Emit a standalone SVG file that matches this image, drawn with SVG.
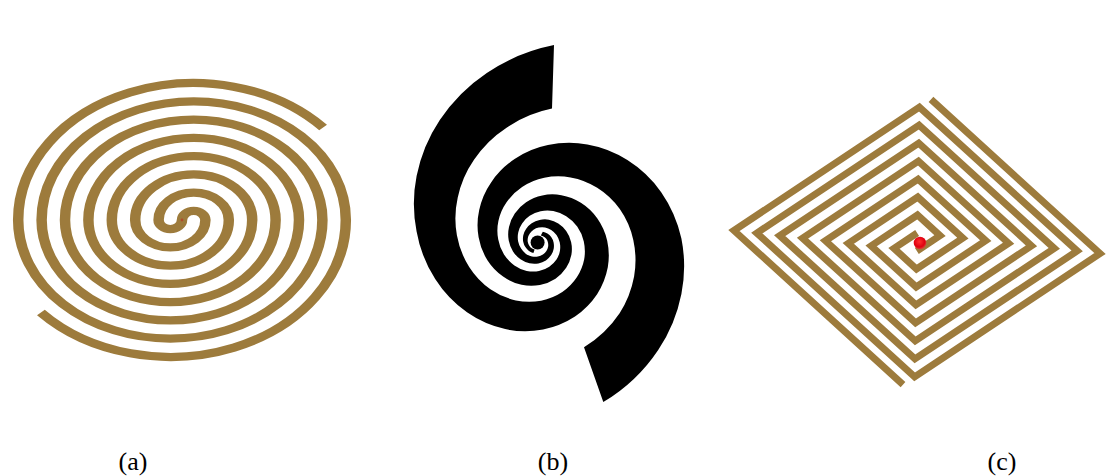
<svg xmlns="http://www.w3.org/2000/svg" xmlns:xlink="http://www.w3.org/1999/xlink" width="1116" height="476" viewBox="0 0 1116 476">
  <style>
    .gold { fill: none; stroke: #9d7b3c; stroke-linecap: butt; }
    .sq { fill: none; stroke: #9d7b3c; stroke-width: 7; stroke-linejoin: miter; stroke-miterlimit: 8; vector-effect: non-scaling-stroke; }
    .blk { fill: #000; stroke: none; }
    .lbl { font-family: "Liberation Serif", "Times New Roman", serif; font-size: 26px; fill: #000; text-anchor: middle; }
  </style>
  <defs>
    <radialGradient id="redDot" cx="0.45" cy="0.4" r="0.6">
      <stop offset="0" stop-color="#ff3030"/>
      <stop offset="0.7" stop-color="#e00010"/>
      <stop offset="1" stop-color="#d84a3a"/>
    </radialGradient>
  </defs>
  <rect width="1116" height="476" fill="#fff"/>

  <!-- (a) Archimedean two-arm spiral -->
  <g id="spiral-a" transform="translate(182,220) scale(1,0.78)">
    <path id="a-arm1" class="gold" stroke-width="10.5" d="M0,0 A11.7,11.7 0 0 1 23.4,0 A35.1,35.1 0 0 1 -46.8,0 A58.5,58.5 0 0 1 70.2,0 A81.9,81.9 0 0 1 -93.6,0 A105.3,105.3 0 0 1 117,0 A128.7,128.7 0 0 1 -140.4,0 A152.1,152.1 0 0 1 163.8,0 A175.5,175.5 0 0 1 -141.1,118.6"/>
    <use xlink:href="#a-arm1" href="#a-arm1" transform="rotate(180)"/>
  </g>
  <circle cx="182" cy="220" r="1.4" fill="#b04a2a"/>

  <!-- (b) equiangular two-arm spiral -->
  <g id="spiral-b">
    <path id="b-arm1" class="blk" d="M554.0,45.1 A186.3,186.3 0 0 0 486.8,72.9 A170.2,170.2 0 0 0 439.8,120.0 A155.5,155.5 0 0 0 416.6,176.1 A142.1,142.1 0 0 0 416.6,231.5 A129.8,129.8 0 0 0 435.2,279.0 A118.7,118.7 0 0 0 467.0,312.3 A108.4,108.4 0 0 0 505.2,329.1 A99.1,99.1 0 0 0 543.1,329.5 A90.5,90.5 0 0 0 575.0,316.5 A82.7,82.7 0 0 0 597.1,294.2 A75.5,75.5 0 0 0 607.8,267.3 A69.0,69.0 0 0 0 607.2,240.7 A63.0,63.0 0 0 0 597.2,218.3 A57.6,57.6 0 0 0 580.9,202.8 A52.6,52.6 0 0 0 561.4,195.2 A48.1,48.1 0 0 0 542.3,195.4 A43.9,43.9 0 0 0 526.1,202.3 A40.1,40.1 0 0 0 514.8,213.6 A36.7,36.7 0 0 0 509.0,227.0 A33.5,33.5 0 0 0 508.7,240.3 A30.6,30.6 0 0 0 513.0,251.4 A28.0,28.0 0 0 0 520.5,259.3 A25.6,25.6 0 0 0 529.5,263.3 A23.4,23.4 0 0 0 538.4,263.4 A21.3,21.3 0 0 0 545.9,260.4 A19.5,19.5 0 0 0 551.2,255.1 A17.8,17.8 0 0 0 553.7,248.7 A16.3,16.3 0 0 0 553.6,242.5 A14.9,14.9 0 0 0 551.2,237.1 A13.6,13.6 0 0 0 547.4,233.5 A12.4,12.4 0 0 0 542.8,231.7 L540.8,235.5 A8.3,8.3 0 0 1 543.9,236.7 A9.1,9.1 0 0 1 546.5,239.1 A9.9,9.9 0 0 1 548.0,242.7 A10.9,10.9 0 0 1 548.1,246.8 A11.9,11.9 0 0 1 546.4,251.1 A13.0,13.0 0 0 1 542.9,254.6 A14.2,14.2 0 0 1 537.9,256.6 A15.6,15.6 0 0 1 532.0,256.5 A17.1,17.1 0 0 1 526.0,253.9 A18.7,18.7 0 0 1 521.1,248.6 A20.4,20.4 0 0 1 518.1,241.2 A22.3,22.3 0 0 1 518.3,232.3 A24.5,24.5 0 0 1 522.1,223.4 A26.7,26.7 0 0 1 529.7,215.8 A29.3,29.3 0 0 1 540.6,211.3 A32.1,32.1 0 0 1 553.3,211.1 A35.1,35.1 0 0 1 566.2,216.2 A38.4,38.4 0 0 1 577.2,226.6 A42.0,42.0 0 0 1 583.8,241.5 A46.0,46.0 0 0 1 584.2,259.2 A50.3,50.3 0 0 1 577.0,277.0 A55.1,55.1 0 0 1 562.3,292.0 A60.3,60.3 0 0 1 541.1,300.7 A66.1,66.1 0 0 1 515.8,300.4 A72.3,72.3 0 0 1 490.4,289.2 A79.1,79.1 0 0 1 469.2,266.9 A86.5,86.5 0 0 1 456.9,235.3 A94.7,94.7 0 0 1 457.7,197.8 A103.7,103.7 0 0 1 474.0,159.8 A113.5,113.5 0 0 1 506.2,127.9 A124.2,124.2 0 0 1 552.0,108.6 Z"/>
    <path id="b-arm2" class="blk" d="M603.3,402.1 A171,171 0 0 0 658.2,350.0 A155.5,155.5 0 0 0 681.4,293.9 A142.1,142.1 0 0 0 681.4,238.5 A129.8,129.8 0 0 0 661.2,192.2 A118.7,118.7 0 0 0 627.4,160.1 A108.4,108.4 0 0 0 587.4,144.5 A99.1,99.1 0 0 0 547.9,145.1 A90.5,90.5 0 0 0 514.6,159.1 A82.7,82.7 0 0 0 491.1,182.4 A75.5,75.5 0 0 0 479.2,210.1 A69.0,69.0 0 0 0 478.6,237.3 A63.0,63.0 0 0 0 487.6,260.5 A57.6,57.6 0 0 0 503.1,276.6 A52.6,52.6 0 0 0 521.6,284.8 A48.1,48.1 0 0 0 539.9,285.0 A43.9,43.9 0 0 0 555.5,278.7 A40.1,40.1 0 0 0 566.2,267.8 A36.7,36.7 0 0 0 571.4,254.8 A33.5,33.5 0 0 0 571.1,241.9 A30.6,30.6 0 0 0 566.2,231.0 A28.0,28.0 0 0 0 558.3,223.5 A25.6,25.6 0 0 0 548.9,219.7 A23.4,23.4 0 0 0 539.6,220.0 A21.3,21.3 0 0 0 531.7,223.2 A19.5,19.5 0 0 0 526.2,228.7 A17.8,17.8 0 0 0 523.3,235.3 A16.3,16.3 0 0 0 523.2,241.7 A14.9,14.9 0 0 0 525.4,247.1 A13.6,13.6 0 0 0 529.0,250.9 A12.4,12.4 0 0 0 533.4,252.9 L534.6,249.5 A8.3,8.3 0 0 1 531.7,248.3 A9.1,9.1 0 0 1 529.3,245.7 A9.9,9.9 0 0 1 527.8,242.1 A10.9,10.9 0 0 1 527.9,237.8 A11.9,11.9 0 0 1 529.8,233.5 A13.0,13.0 0 0 1 533.5,229.8 A14.2,14.2 0 0 1 538.7,227.6 A15.6,15.6 0 0 1 545.0,227.5 A17.1,17.1 0 0 1 551.2,229.9 A18.7,18.7 0 0 1 556.5,235.0 A20.4,20.4 0 0 1 559.7,242.2 A22.3,22.3 0 0 1 559.9,250.9 A24.5,24.5 0 0 1 556.5,259.6 A26.7,26.7 0 0 1 549.3,266.8 A29.3,29.3 0 0 1 539.0,271.1 A32.1,32.1 0 0 1 526.7,270.9 A35.1,35.1 0 0 1 514.4,265.4 A38.4,38.4 0 0 1 504.0,254.6 A42.0,42.0 0 0 1 498.2,239.3 A46.0,46.0 0 0 1 498.4,221.0 A50.3,50.3 0 0 1 506.4,202.6 A55.1,55.1 0 0 1 522.1,187.0 A60.3,60.3 0 0 1 544.3,177.7 A66.1,66.1 0 0 1 570.6,177.4 A72.3,72.3 0 0 1 597.2,187.8 A79.1,79.1 0 0 1 619.8,209.1 A86.5,86.5 0 0 1 633.3,239.9 A94.7,94.7 0 0 1 634.1,276.4 A103.7,103.7 0 0 1 619.6,313.2 A114,114 0 0 1 584.0,347.2 Z"/>
    <circle class="blk" cx="537.6" cy="242.5" r="7"/>
  </g>

  <!-- (c) square two-arm spiral -->
  <g id="spiral-c" transform="matrix(5.795,-3.855,5.635,5.135,917,242)">
    <polyline id="c-arm1" class="sq" points="-1,1 3,1 3,-3 -5,-3 -5,5 7,5 7,-7 -9,-7 -9,9 11,9 11,-11 -13,-11 -13,13 15,13 15,-15 -17,-15 -17,15"/>
    <polyline id="c-arm2" class="sq" points="1,-1 -3,-1 -3,3 5,3 5,-5 -7,-5 -7,7 9,7 9,-9 -11,-9 -11,11 13,11 13,-13 -15,-13 -15,15 17,15 17,-15"/>
  </g>
  <circle id="feed-c" cx="920" cy="243" r="6.3" fill="url(#redDot)"/>

  <!-- labels -->
  <g id="labels">
    <text class="lbl" x="133" y="470">(a)</text>
    <text class="lbl" x="553" y="470">(b)</text>
    <text class="lbl" x="1002" y="470">(c)</text>
  </g>
</svg>
